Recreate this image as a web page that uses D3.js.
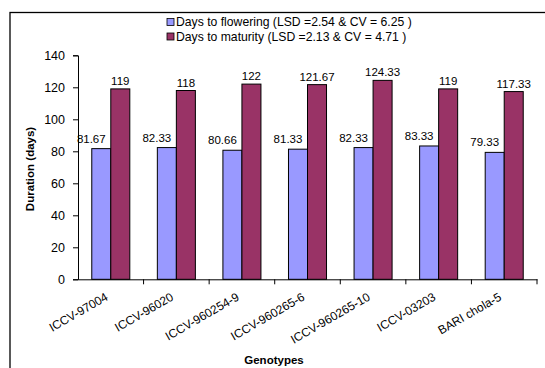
<!DOCTYPE html>
<html><head><meta charset="utf-8">
<script src="https://cdn.jsdelivr.net/npm/d3@7"></script>
<style>
body{margin:0;background:#fff;}
svg{display:block;font-family:"Liberation Sans",Arial,sans-serif;}
</style></head>
<body>
<svg id="chart" width="545" height="368"></svg>
<script>
const genotypes = ["ICCV-97004","ICCV-96020","ICCV-960254-9","ICCV-960265-6","ICCV-960265-10","ICCV-03203","BARI chola-5"];
const floweringDays = [81.67, 82.33, 80.66, 81.33, 82.33, 83.33, 79.33];
const maturityDays = [119, 118, 122, 121.67, 124.33, 119, 117.33];
const floweringLabels = ["81.67","82.33","80.66","81.33","82.33","83.33","79.33"];
const maturityLabels = ["119","118","122","121.67","124.33","119","117.33"];
const seriesNames = ["Days to flowering (LSD =2.54 & CV = 6.25 )","Days to maturity (LSD =2.13 & CV = 4.71 )"];
const seriesColors = ["#9999FF","#993366"];
const yTicks = [0,20,40,60,80,100,120,140];

const svg = d3.select("#chart");
const pLeft = 78, pRight = 537, pTop = 55.3, pBottom = 279.3;

// outer border
svg.append("rect").attr("x",10).attr("y",12.5).attr("width",600).attr("height",400)
  .attr("fill","none").attr("stroke","#000").attr("stroke-width",1.3);

const x = d3.scaleBand().domain(genotypes).range([pLeft,pRight]).padding(0);
const xs = d3.scaleBand().domain([0,1]).range([x.bandwidth()*0.21, x.bandwidth()*0.79]).padding(0);
const y = d3.scaleLinear().domain([0,140]).range([pBottom,pTop]);

// y axis
const yAxis = svg.append("g").attr("transform",`translate(${pLeft},0)`)
  .call(d3.axisLeft(y).tickValues(yTicks).tickSize(5).tickPadding(8));
yAxis.select(".domain").attr("stroke","#000");
yAxis.selectAll("line").attr("stroke","#000");
yAxis.selectAll("text").attr("font-size","12.5px").attr("fill","#000").attr("font-family","Liberation Sans, Arial, sans-serif");

// bars
const data = genotypes.map((g,i)=>({g, vals:[floweringDays[i], maturityDays[i]], labs:[floweringLabels[i], maturityLabels[i]]}));
const grp = svg.append("g");
data.forEach(d=>{
  d.vals.forEach((v,k)=>{
    grp.append("rect")
      .attr("x", x(d.g)+xs(k)).attr("y", y(v))
      .attr("width", xs.bandwidth()).attr("height", y(0)-y(v))
      .attr("fill", seriesColors[k]).attr("stroke","#000").attr("stroke-width",1);
    grp.append("text")
      .attr("x", x(d.g)+xs(k)+xs.bandwidth()/2 + (k===0?-10:0))
      .attr("y", y(v) - (k===0?6:4))
      .attr("text-anchor","middle").attr("font-size","11.5px").attr("fill","#000")
      .text(d.labs[k]);
  });
});

// x axis
const xAxis = svg.append("g").attr("transform",`translate(0,${pBottom})`)
  .call(d3.axisBottom(x).tickSize(0).tickFormat(""));
xAxis.select(".domain").attr("stroke","#000");
// boundary ticks
const bounds = genotypes.map(g=>x(g)+x.bandwidth());
svg.append("g").selectAll("line").data(bounds).join("line")
  .attr("x1",d=>d).attr("x2",d=>d).attr("y1",pBottom).attr("y2",pBottom+5).attr("stroke","#000");
// category labels
svg.append("g").selectAll("text").data(genotypes).join("text")
  .attr("transform", d=>`translate(${x(d)+x.bandwidth()/2-2},${pBottom+20}) rotate(-30)`)
  .attr("text-anchor","end").attr("font-size","12px").attr("fill","#000")
  .text(d=>d);

// axis titles
svg.append("text").attr("transform",`translate(34,169) rotate(-90)`)
  .attr("text-anchor","middle").attr("font-size","11.5px").attr("font-weight","bold").text("Duration (days)");
svg.append("text").attr("x",274).attr("y",364)
  .attr("text-anchor","middle").attr("font-size","11.5px").attr("font-weight","bold").text("Genotypes");

// legend
const leg = svg.append("g");
seriesNames.forEach((n,i)=>{
  const cy = 22 + i*14.5;
  leg.append("rect").attr("x",167).attr("y",cy-3.5).attr("width",7).attr("height",7)
    .attr("fill",seriesColors[i]).attr("stroke","#000").attr("stroke-width",0.8);
  leg.append("text").attr("x",176).attr("y",cy+4.3).attr("font-size","12.2px").attr("fill","#000").text(n);
});
</script>
</body></html>
